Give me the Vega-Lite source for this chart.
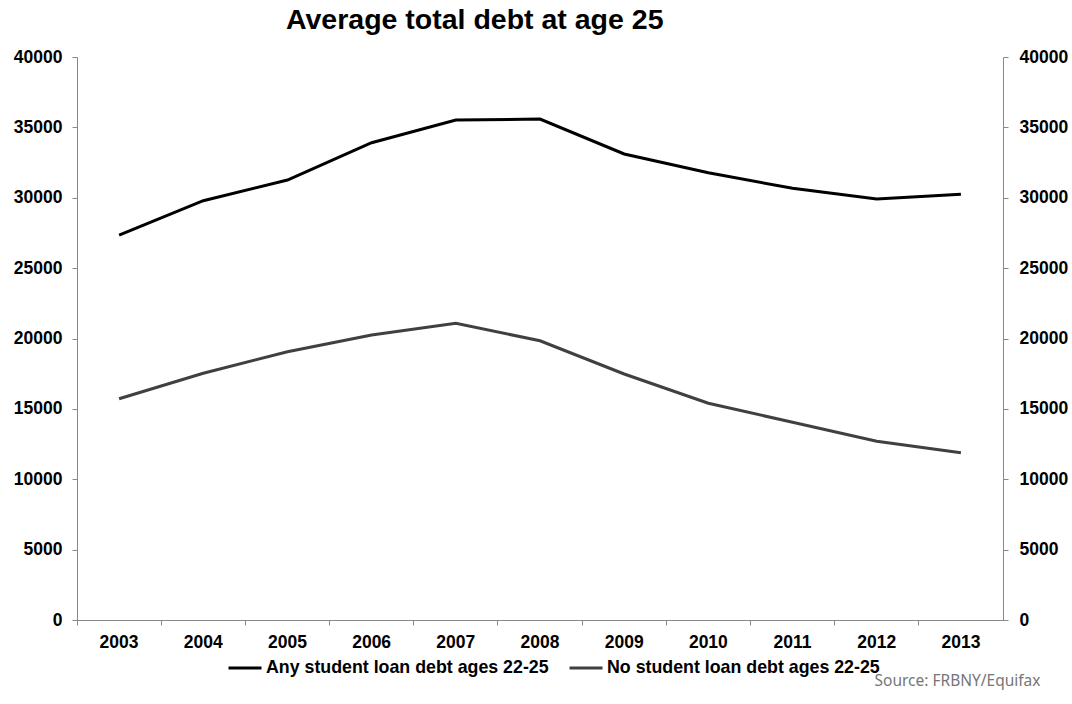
{
  "$schema": "https://vega.github.io/schema/vega-lite/v6.json",
  "width": 926,
  "height": 563,
  "autosize": {"type": "none"},
  "padding": {"left": 77, "top": 57, "right": 69, "bottom": 84},
  "background": "white",
  "config": {"font": "Liberation Sans", "view": {"stroke": null}},
  "title": {
    "text": "Average total debt at age 25",
    "anchor": "start",
    "frame": "group",
    "dx": 209,
    "dy": 29,
    "fontSize": 28.5,
    "font": "Liberation Sans",
    "fontWeight": "bold",
    "color": "#000000",
    "baseline": "bottom",
    "offset": 14
  },
  "data": {
    "values": [
      {"year": "2003", "series": "Any student loan debt ages 22-25", "value": 27350},
      {"year": "2004", "series": "Any student loan debt ages 22-25", "value": 29790},
      {"year": "2005", "series": "Any student loan debt ages 22-25", "value": 31260},
      {"year": "2006", "series": "Any student loan debt ages 22-25", "value": 33910},
      {"year": "2007", "series": "Any student loan debt ages 22-25", "value": 35520},
      {"year": "2008", "series": "Any student loan debt ages 22-25", "value": 35590},
      {"year": "2009", "series": "Any student loan debt ages 22-25", "value": 33110},
      {"year": "2010", "series": "Any student loan debt ages 22-25", "value": 31780},
      {"year": "2011", "series": "Any student loan debt ages 22-25", "value": 30670},
      {"year": "2012", "series": "Any student loan debt ages 22-25", "value": 29910},
      {"year": "2013", "series": "Any student loan debt ages 22-25", "value": 30250},
      {"year": "2003", "series": "No student loan debt ages 22-25", "value": 15720},
      {"year": "2004", "series": "No student loan debt ages 22-25", "value": 17530},
      {"year": "2005", "series": "No student loan debt ages 22-25", "value": 19060},
      {"year": "2006", "series": "No student loan debt ages 22-25", "value": 20250},
      {"year": "2007", "series": "No student loan debt ages 22-25", "value": 21080},
      {"year": "2008", "series": "No student loan debt ages 22-25", "value": 19840},
      {"year": "2009", "series": "No student loan debt ages 22-25", "value": 17480},
      {"year": "2010", "series": "No student loan debt ages 22-25", "value": 15400},
      {"year": "2011", "series": "No student loan debt ages 22-25", "value": 14050},
      {"year": "2012", "series": "No student loan debt ages 22-25", "value": 12700},
      {"year": "2013", "series": "No student loan debt ages 22-25", "value": 11890}
    ]
  },
  "encoding": {
    "x": {
      "field": "year",
      "type": "ordinal",
      "bandPosition": 0.5,
      "scale": {"type": "band", "paddingInner": 0, "paddingOuter": 0},
      "axis": {
        "bandPosition": 0,
        "labelAngle": 0,
        "labelFontSize": 17.5,
        "labelFontWeight": "bold",
        "labelColor": "#000000",
        "labelPadding": 8,
        "tickSize": 5,
        "tickColor": "#888888",
        "domainColor": "#888888",
        "grid": false,
        "title": "Source: FRBNY/Equifax",
        "titleX": 963,
        "titleY": 65,
        "titleAlign": "right",
        "titleAnchor": null,
        "titleBaseline": "alphabetic",
        "titleFont": "Noto Sans",
        "titleFontWeight": "normal",
        "titleFontSize": 15.5,
        "titleColor": "#767676"
      }
    }
  },
  "layer": [
    {
      "mark": {"type": "line", "strokeWidth": 3},
      "encoding": {
        "y": {
          "field": "value",
          "type": "quantitative",
          "scale": {"domain": [0, 40000], "nice": false},
          "axis": {
            "orient": "left",
            "values": [0, 5000, 10000, 15000, 20000, 25000, 30000, 35000, 40000],
            "format": "d",
            "title": null,
            "grid": false,
            "labelFontSize": 17.5,
            "labelFontWeight": "bold",
            "labelColor": "#000000",
            "labelPadding": 10,
            "tickSize": 5,
            "tickColor": "#888888",
            "domainColor": "#888888"
          }
        },
        "color": {
          "field": "series",
          "type": "nominal",
          "scale": {
            "domain": ["Any student loan debt ages 22-25", "No student loan debt ages 22-25"],
            "range": ["#000000", "#404040"]
          },
          "legend": {
            "orient": "none",
            "legendX": 150,
            "legendY": 593,
            "direction": "horizontal",
            "title": null,
            "symbolType": "stroke",
            "symbolSize": 1089,
            "symbolStrokeWidth": 3,
            "labelFontSize": 17.8,
            "labelFontWeight": "bold",
            "labelFont": "Liberation Sans",
            "labelColor": "#000000",
            "labelOffset": 3,
            "columnPadding": 14,
            "labelLimit": 400
          }
        }
      }
    },
    {
      "mark": {"type": "line", "opacity": 0},
      "encoding": {
        "detail": {"field": "series", "type": "nominal"},
        "y": {
          "field": "value",
          "type": "quantitative",
          "scale": {"domain": [0, 40000], "nice": false},
          "axis": {
            "orient": "right",
            "values": [0, 5000, 10000, 15000, 20000, 25000, 30000, 35000, 40000],
            "format": "d",
            "title": null,
            "grid": false,
            "labelFontSize": 17.5,
            "labelFontWeight": "bold",
            "labelColor": "#000000",
            "labelPadding": 11,
            "tickSize": 5,
            "tickColor": "#888888",
            "domainColor": "#888888"
          }
        }
      }
    }
  ],
  "resolve": {"scale": {"y": "independent"}}
}
